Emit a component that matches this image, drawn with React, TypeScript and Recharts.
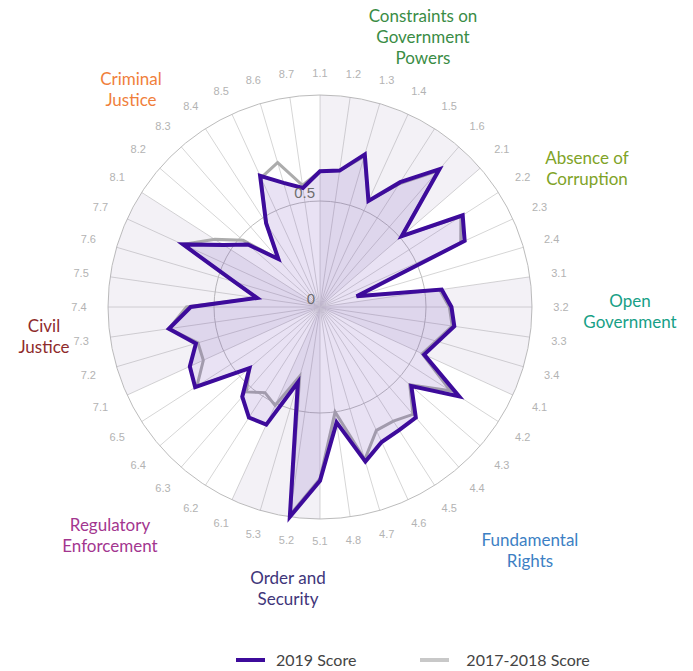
import React from 'react';
import { RadarChart, Radar, PolarGrid, PolarAngleAxis, PolarRadiusAxis } from 'recharts';

const subfactors = [
  '1.1', '1.2', '1.3', '1.4', '1.5', '1.6',
  '2.1', '2.2', '2.3', '2.4',
  '3.1', '3.2', '3.3', '3.4',
  '4.1', '4.2', '4.3', '4.4', '4.5', '4.6', '4.7', '4.8',
  '5.1', '5.2', '5.3',
  '6.1', '6.2', '6.3', '6.4', '6.5',
  '7.1', '7.2', '7.3', '7.4', '7.5', '7.6', '7.7',
  '8.1', '8.2', '8.3', '8.4', '8.5', '8.6', '8.7',
];

const score2019 = [
  0.64, 0.65, 0.75, 0.55, 0.70, 0.86,
  0.51, 0.80, 0.75, 0.18,
  0.58, 0.62, 0.64, 0.58,
  0.54, 0.78, 0.57, 0.69, 0.69, 0.70, 0.76, 0.55,
  0.82, 1.0, 0.37,
  0.61, 0.62, 0.56, 0.44, 0.70,
  0.675, 0.61, 0.72, 0.61, 0.30, 0.42, 0.71,
  0.54, 0.45, 0.30, 0.47, 0.68, 0.61, 0.567,
];

const score2017 = [
  0.64, 0.65, 0.74, 0.55, 0.69, 0.85,
  0.51, 0.79, 0.73, 0.18,
  0.57, 0.61, 0.63, 0.57,
  0.53, 0.73, 0.56, 0.67, 0.64, 0.64, 0.75, 0.50,
  0.81, 0.99, 0.34,
  0.51, 0.48, 0.53, 0.44, 0.69,
  0.605, 0.60, 0.72, 0.63, 0.30, 0.42, 0.71,
  0.59, 0.48, 0.30, 0.47, 0.67, 0.71, 0.58,
];

const radialTicks = [0, 0.5, 1];

const factorTitles = [
  ['Constraints on', 'Government', 'Powers'],
  ['Absence of', 'Corruption'],
  ['Open', 'Government'],
  ['Fundamental', 'Rights'],
  ['Order and', 'Security'],
  ['Regulatory', 'Enforcement'],
  ['Civil', 'Justice'],
  ['Criminal', 'Justice'],
];

const factorColors = ['#3a8c45', '#80a327', '#17a086', '#3d7fc4', '#40357a', '#a3368f', '#8e2b2b', '#f07f3c'];

// title anchor positions (center x, first baseline y)
const titlePos = [
  [423, 22], [587, 164], [630, 307], [530, 546], [288, 584], [110, 531], [44, 332], [131, 85],
];

const seriesNames = ['2019 Score', '2017-2018 Score'];
const seriesColors = ['#3d0b9b', '#acacac'];

const factorOf = (l: string) => parseInt(l.split('.')[0], 10);

const data = subfactors.map((label, i) => {
  const f = factorOf(label);
  const prevF = i > 0 ? factorOf(subfactors[i - 1]) : f;
  const shade = f % 2 === 1 || (prevF % 2 === 1 && prevF !== f) ? 1 : 0;
  return { label, s2019: score2019[i], s2017: score2017[i], shade };
});

const W = 693;
const H = 671;
const CX = 320;
const CY = 307;
const R = 212;

const AngleTick = (props: any) => {
  const { payload } = props;
  const cx = props.cx ?? CX;
  const cy = props.cy ?? CY;
  const theta = ((90 - payload.coordinate) * Math.PI) / 180;
  const s = Math.sin(theta);
  const c = Math.cos(theta);
  const r = R + 19 + 10 * Math.abs(s) + 3 * Math.abs(c);
  return (
    <text
      x={cx + r * s}
      y={cy - r * c}
      textAnchor="middle"
      dominantBaseline="central"
      fontSize={11}
      fontFamily="'Liberation Sans', Arial, sans-serif"
      fill="#b3b3b3"
    >
      {payload.value}
    </text>
  );
};

const RadiusTick = (props: any) => {
  const { x, y, payload } = props;
  if (payload.value >= 1) return <g />;
  return (
    <text
      x={x - 5}
      y={y - 3}
      textAnchor="end"
      fontSize={15}
      fontFamily="'Liberation Sans', Arial, sans-serif"
      fill="#6e6e6e"
    >
      {payload.value}
    </text>
  );
};

export default function App() {
  return (
    <div style={{ position: 'absolute', left: 0, top: 0, width: W, height: H, background: '#fff' }}>
      <RadarChart
        width={W}
        height={H}
        data={data}
        cx={CX}
        cy={CY}
        outerRadius={R}
        margin={{ top: 0, right: 0, bottom: 0, left: 0 }}
      >
        <Radar
          dataKey="shade"
          stroke="none"
          fill="#8a7aa8"
          fillOpacity={0.1}
          isAnimationActive={false}
          dot={false}
        />
        <PolarGrid gridType="circle" stroke="#d6d6d6" polarRadius={[]} />
        <PolarGrid gridType="circle" radialLines={false} stroke="#bcbcbc" polarRadius={[R / 2, R]} />
        <PolarAngleAxis dataKey="label" tick={<AngleTick />} tickLine={false} axisLine={false} />
        <PolarRadiusAxis
          angle={90}
          domain={[0, 1]}
          ticks={radialTicks as any}
          tickCount={3}
          axisLine={false}
          tickLine={false}
          tick={<RadiusTick />}
        />
        <Radar
          name={seriesNames[1]}
          dataKey="s2017"
          stroke={seriesColors[1]}
          strokeWidth={3}
          fill="none"
          fillOpacity={0}
          isAnimationActive={false}
          dot={false}
        />
        <Radar
          name={seriesNames[0]}
          dataKey="s2019"
          stroke={seriesColors[0]}
          strokeWidth={4}
          strokeLinejoin="miter"
          fill="#6a3fb5"
          fillOpacity={0.15}
          isAnimationActive={false}
          dot={false}
        />
        {factorTitles.map((lines, k) => (
          <text
            key={k}
            x={titlePos[k][0]}
            y={titlePos[k][1]}
            textAnchor="middle"
            fontSize={17}
            fontFamily="Lato, 'Noto Sans', sans-serif"
            fill={factorColors[k]}
          >
            {lines.map((ln, j) => (
              <tspan key={j} x={titlePos[k][0]} dy={j === 0 ? 0 : 20.8}>
                {ln}
              </tspan>
            ))}
          </text>
        ))}
      </RadarChart>
      <div
        style={{
          position: 'absolute',
          left: 236,
          top: 650,
          display: 'flex',
          alignItems: 'center',
          fontFamily: "Lato, 'Noto Sans', sans-serif",
          fontSize: 16,
          color: '#444',
          whiteSpace: 'nowrap',
        }}
      >
        <span style={{ display: 'inline-block', width: 29, height: 4, background: seriesColors[0] }} />
        <span style={{ marginLeft: 11 }}>{seriesNames[0]}</span>
        <span style={{ display: 'inline-block', width: 29, height: 4, background: '#c8c8c8', marginLeft: 64 }} />
        <span style={{ marginLeft: 17 }}>{seriesNames[1]}</span>
      </div>
    </div>
  );
}
